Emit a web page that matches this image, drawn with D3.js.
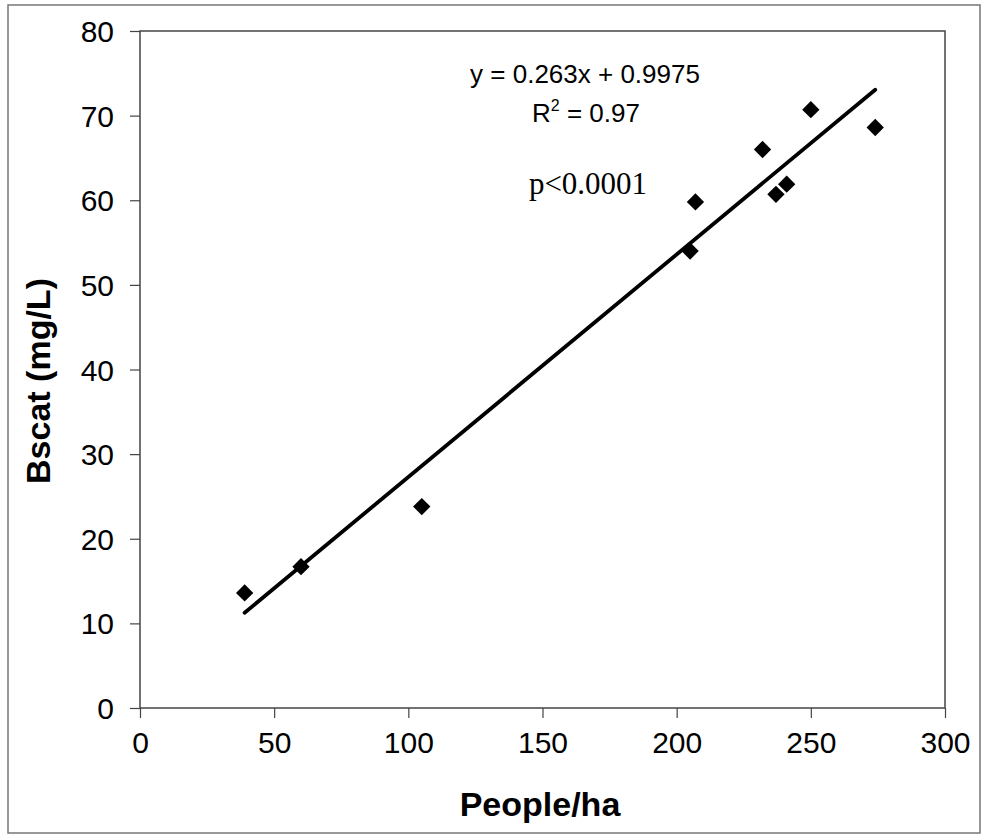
<!DOCTYPE html>
<html>
<head>
<meta charset="utf-8">
<script src="https://cdn.jsdelivr.net/npm/d3@7"></script>
<style>
  body { margin: 0; background: #fff; }
  svg { display: block; }
</style>
</head>
<body>
<script>
const WIDTH  = 985;
const HEIGHT = 835;

// Plot area in page pixels
const LEFT = 140, RIGHT = 945, TOP = 31, BOTTOM = 708;

// Data
const people = [39, 60, 105, 205, 207, 232, 237, 241, 250, 274];
const bscat  = [13.6, 16.7, 23.8, 54.0, 59.8, 66.0, 60.7, 61.9, 70.7, 68.6];

// Fit shown on the chart
const slope = 0.263;
const intercept = 0.9975;

const xTicks = [0, 50, 100, 150, 200, 250, 300];
const yTicks = [0, 10, 20, 30, 40, 50, 60, 70, 80];

const svg = d3.select("body").append("svg")
  .attr("width", WIDTH)
  .attr("height", HEIGHT);

// Outer frame round the whole figure
svg.append("rect")
  .attr("x", 8).attr("y", 5)
  .attr("width", 972).attr("height", 828)
  .style("fill", "none")
  .style("stroke", "#777")
  .style("stroke-width", 1.5);

const xScale = d3.scaleLinear().domain([0, 300]).range([LEFT, RIGHT]);
const yScale = d3.scaleLinear().domain([0, 80]).range([BOTTOM, TOP]);

// Plot frame
svg.append("rect")
  .attr("x", LEFT).attr("y", TOP)
  .attr("width", RIGHT - LEFT).attr("height", BOTTOM - TOP)
  .style("fill", "none")
  .style("stroke", "#444")
  .style("stroke-width", 1.5);

// Axes
const xAxis = d3.axisBottom(xScale).tickValues(xTicks).tickSize(10).tickPadding(14);
const yAxis = d3.axisLeft(yScale).tickValues(yTicks).tickSize(10).tickPadding(16);

const gx = svg.append("g")
  .attr("transform", "translate(0," + BOTTOM + ")")
  .call(xAxis);
const gy = svg.append("g")
  .attr("transform", "translate(" + LEFT + ",0)")
  .call(yAxis);

[gx, gy].forEach(g => {
  g.select(".domain").remove();
  g.selectAll("line").style("stroke", "#444").style("stroke-width", 1.2);
  g.selectAll("text")
    .style("font-family", "Liberation Sans, Arial, sans-serif")
    .style("fill", "#000");
});
gx.selectAll("text").style("font-size", "30px");
gy.selectAll("text").style("font-size", "30px").attr("dy", "0.35em");

// Axis titles
svg.append("text")
  .attr("x", 540)
  .attr("y", 816)
  .style("text-anchor", "middle")
  .style("font-family", "Liberation Sans, Arial, sans-serif")
  .style("font-weight", "bold")
  .style("font-size", "34px")
  .text("People/ha");

svg.append("text")
  .attr("transform", "translate(50,381) rotate(-90)")
  .style("text-anchor", "middle")
  .style("font-family", "Liberation Sans, Arial, sans-serif")
  .style("font-weight", "bold")
  .style("font-size", "34px")
  .text("Bscat (mg/L)");

// Regression line over the data range
const xr = d3.extent(people);
svg.append("line")
  .attr("x1", xScale(xr[0])).attr("y1", yScale(slope * xr[0] + intercept))
  .attr("x2", xScale(xr[1])).attr("y2", yScale(slope * xr[1] + intercept))
  .style("stroke", "#000")
  .style("stroke-width", 3.8)
  .style("stroke-linecap", "round");

// Diamond markers
const diamond = d3.symbol().type(d3.symbolSquare).size(150);
svg.selectAll(".pt")
  .data(people.map((p, i) => [p, bscat[i]]))
  .enter()
  .append("path")
    .attr("class", "pt")
    .attr("d", diamond)
    .attr("transform", d => "translate(" + xScale(d[0]) + "," + yScale(d[1]) + ") rotate(45)")
    .style("fill", "#000");

// Annotations
const ann = svg.append("g")
  .style("font-family", "Liberation Sans, Arial, sans-serif")
  .style("font-size", "26px")
  .style("text-anchor", "middle");

ann.append("text")
  .attr("x", 585).attr("y", 83)
  .text("y = 0.263x + 0.9975");

const r2 = ann.append("text").attr("x", 586).attr("y", 122);
r2.append("tspan").text("R");
r2.append("tspan").attr("dy", -11).style("font-size", "16px").text("2");
r2.append("tspan").attr("dy", 11).text(" = 0.97");

svg.append("text")
  .attr("x", 588).attr("y", 194)
  .style("text-anchor", "middle")
  .style("font-family", "Liberation Serif, Times New Roman, serif")
  .style("font-size", "31px")
  .text("p<0.0001");
</script>
</body>
</html>
